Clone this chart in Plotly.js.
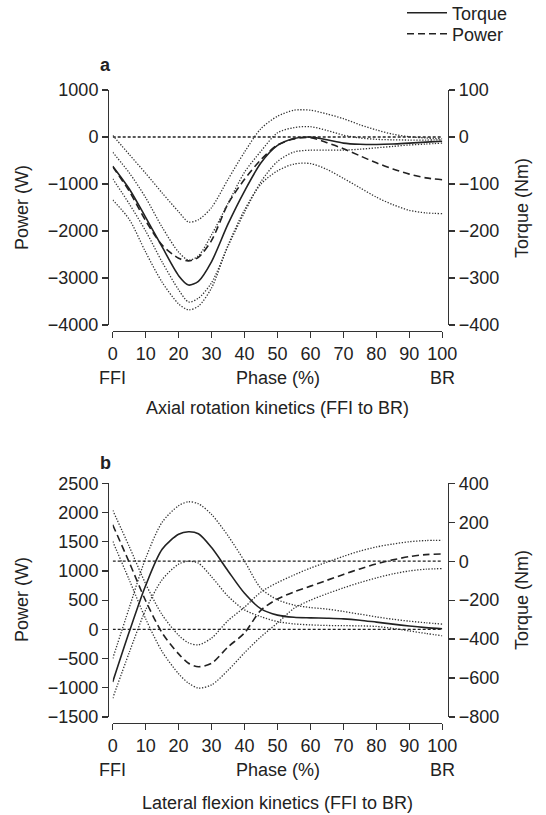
<!DOCTYPE html>
<html>
<head>
<meta charset="utf-8">
<script src="https://cdn.plot.ly/plotly-3.0.1.min.js"></script>
<style>html,body{margin:0;padding:0;background:#fff;}#chart{width:546px;height:815px;}</style>
</head>
<body>
<div id="chart"></div>
<script>
// Phase (%) sample points
const phase = [0,5,10,15,20,23,26,30,35,40,45,50,55,60,65,70,75,80,85,90,95,100];
const xTicks = [0,10,20,30,40,50,60,70,80,90,100];

// (a) Axial rotation kinetics
const torqueA      = [-62,-110,-171,-234,-295,-315,-307,-265,-185,-115,-55,-18,-3,0,-6,-13,-15.5,-16,-15,-13,-11,-9];
const torqueAUpper = [-32.5,-76,-129,-192,-245,-262,-253,-208,-141,-75,-30,9,20,22,14,4,-2,-5,-6,-6.5,-6.5,-6];
const torqueALower = [-89,-142,-200,-266,-325,-351,-343,-310,-232,-160,-95,-52,-32,-28,-28,-28,-26,-23,-20,-17,-15,-13];
const powerA       = [-630,-1150,-1780,-2300,-2580,-2635,-2560,-2200,-1420,-900,-480,-170,-40,-15,-120,-250,-400,-550,-680,-790,-870,-910];
const powerAUpper  = [35,-370,-772,-1190,-1590,-1807,-1760,-1500,-900,-320,180,440,570,570,490,390,260,150,60,5,-20,-40];
const powerALower  = [-1340,-1750,-2450,-3090,-3550,-3677,-3600,-3210,-2300,-1550,-1000,-720,-575,-565,-690,-880,-1080,-1280,-1440,-1560,-1615,-1630];

// (b) Lateral flexion kinetics
const torqueB      = [-620,-364,-125,61,138,151,141,70,-50,-165,-245,-277,-288,-291,-293,-296,-303,-313,-323,-333,-341,-347];
const torqueBUpper = [-500,-240,15,200,285,305,295,240,130,0,-140,-198,-225,-238,-246,-258,-272,-286,-298,-308,-316,-323];
const torqueBLower = [-704,-470,-250,-95,-15,0,-10,-80,-180,-250,-285,-310,-322,-327,-330,-331,-332,-335,-345,-358,-371,-383];
const powerB       = [1790,1150,490,-60,-420,-580,-640,-580,-300,-60,330,520,640,740,840,940,1035,1120,1190,1245,1280,1290];
const powerBUpper  = [2040,1420,780,250,-100,-230,-265,-150,150,380,640,800,930,1050,1150,1250,1340,1410,1460,1500,1520,1525];
const powerBLower  = [1506,850,180,-380,-760,-920,-1005,-950,-700,-400,-125,110,360,500,610,710,800,880,950,1000,1030,1040];

const W = 546, H = 815;
const px = v => v / W;
const py = v => 1 - v / H;
const FONT = "Liberation Sans, Arial, Helvetica, sans-serif";
const INK = "#222";
const FS = 18;

const solid = {color: INK, width: 1.6, shape: "spline", smoothing: 0.8};
const dashed = {color: INK, width: 1.6, dash: "7px,4px", shape: "spline", smoothing: 0.8};
const dotted = {color: "#333", width: 1.3, dash: "1.3px,1.6px", shape: "spline", smoothing: 0.8};

function tr(y, xa, ya, line, name, legend) {
  const t = {x: phase, y: y, xaxis: xa, yaxis: ya, type: "scatter", mode: "lines",
          line: line, name: name || "", showlegend: !!legend, hoverinfo: "skip"};
  if (legend && legend !== true) t.legend = legend;
  return t;
}

const data = [
  tr(torqueA, "x", "y2", solid, "Torque", "legend"),
  tr(powerA, "x", "y", dashed, "Power", "legend2"),
  tr(torqueAUpper, "x", "y2", dotted),
  tr(torqueALower, "x", "y2", dotted),
  tr(powerAUpper, "x", "y", dotted),
  tr(powerALower, "x", "y", dotted),
  tr(torqueB, "x2", "y4", solid),
  tr(powerB, "x2", "y3", dashed),
  tr(torqueBUpper, "x2", "y4", dotted),
  tr(torqueBLower, "x2", "y4", dotted),
  tr(powerBUpper, "x2", "y3", dotted),
  tr(powerBLower, "x2", "y3", dotted)
];

const xDom = [px(112.7), px(442.3)];
const axisCommon = {
  showline: true, linecolor: "#333", linewidth: 1.2, ticks: "outside", ticklen: 6,
  tickwidth: 1.2, tickcolor: "#333", showgrid: false, zeroline: false,
  tickfont: {family: FONT, size: FS, color: INK}, fixedrange: true, automargin: false
};

function legendAt(yPix) {
  return {xref: "container", yref: "container", x: px(402), y: py(yPix), xanchor: "left", yanchor: "middle",
          bgcolor: "rgba(0,0,0,0)", font: {family: FONT, size: FS, color: INK}, itemwidth: 40, tracegroupgap: 0};
}

const layout = {
  width: W, height: H, margin: {l: 0, r: 0, t: 0, b: 0, autoexpand: false},
  paper_bgcolor: "#fff", plot_bgcolor: "rgba(0,0,0,0)",
  font: {family: FONT, size: FS, color: INK},
  showlegend: true,
  legend: legendAt(13),
  legend2: legendAt(34),
  xaxis: Object.assign({}, axisCommon, {domain: xDom, range: [0, 100], tickvals: xTicks,
          anchor: "free", position: py(331)}),
  yaxis: Object.assign({}, axisCommon, {domain: [py(325), py(90)], range: [-4000, 1000], dtick: 1000,
          anchor: "free", position: px(108), side: "left"}),
  yaxis2: Object.assign({}, axisCommon, {overlaying: "y", range: [-400, 100], dtick: 100,
          anchor: "free", position: px(448), side: "right"}),
  xaxis2: Object.assign({}, axisCommon, {domain: xDom, range: [0, 100], tickvals: xTicks,
          anchor: "free", position: py(723)}),
  yaxis3: Object.assign({}, axisCommon, {domain: [py(717), py(483.3)], range: [-1500, 2500], dtick: 500,
          anchor: "free", position: px(108), side: "left"}),
  yaxis4: Object.assign({}, axisCommon, {overlaying: "y3", range: [-800, 400], dtick: 200,
          anchor: "free", position: px(448), side: "right"}),
  shapes: [
    {type: "line", xref: "x", yref: "y", x0: 0, x1: 100, y0: 0, y1: 0, line: {color: INK, width: 1.3, dash: "3px,2px"}},
    {type: "line", xref: "x2", yref: "y3", x0: 0, x1: 100, y0: 0, y1: 0, line: {color: INK, width: 1.3, dash: "3px,2px"}},
    {type: "line", xref: "x2", yref: "y4", x0: 0, x1: 100, y0: 0, y1: 0, line: {color: INK, width: 1.3, dash: "3px,2px"}}
  ],
  annotations: []
};

function ann(text, x, y, opts) {
  return Object.assign({text: text, x: x, y: y, xref: "paper", yref: "paper", showarrow: false,
    xanchor: "center", yanchor: "middle", font: {family: FONT, size: FS, color: INK}}, opts || {});
}
layout.annotations.push(
  ann("<b>a</b>", px(105), py(65)),
  ann("<b>b</b>", px(105), py(463)),
  ann("Power (W)", px(22), py(208), {textangle: -90}),
  ann("Torque (Nm)", px(522), py(208), {textangle: -90}),
  ann("Power (W)", px(22), py(600), {textangle: -90}),
  ann("Torque (Nm)", px(522), py(600), {textangle: -90}),
  ann("FFI", 0, py(378), {xref: "x"}),
  ann("Phase (%)", 50, py(378), {xref: "x"}),
  ann("BR", 100, py(378), {xref: "x"}),
  ann("Axial rotation kinetics (FFI to BR)", 50, py(408), {xref: "x"}),
  ann("FFI", 0, py(770), {xref: "x2"}),
  ann("Phase (%)", 50, py(770), {xref: "x2"}),
  ann("BR", 100, py(770), {xref: "x2"}),
  ann("Lateral flexion kinetics (FFI to BR)", 50, py(803), {xref: "x2"})
);

Plotly.newPlot("chart", data, layout, {staticPlot: true, displayModeBar: false});
</script>
</body>
</html>
